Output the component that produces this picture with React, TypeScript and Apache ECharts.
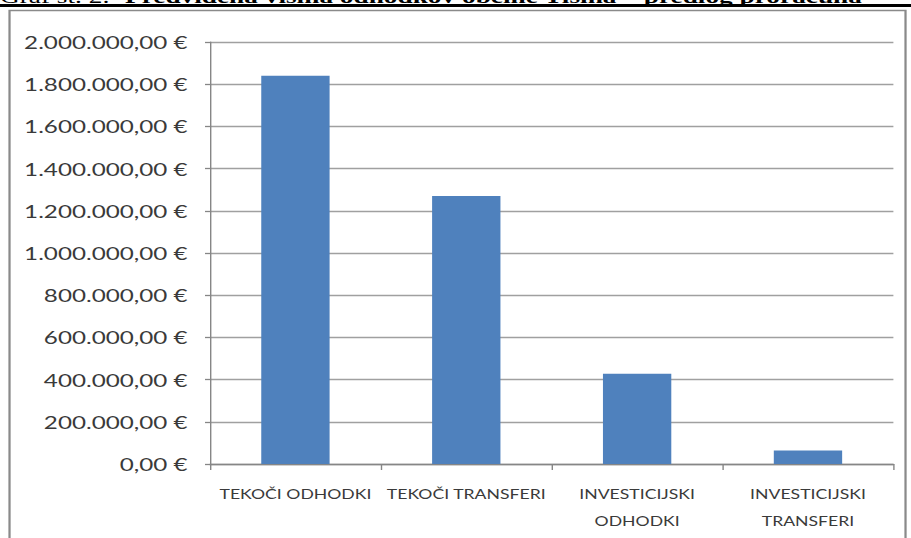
import React, { useEffect, useRef } from "react";
import * as echarts from "echarts";

const categories: string[] = [
  "TEKOČI ODHODKI",
  "TEKOČI TRANSFERI",
  "INVESTICIJSKI\nODHODKI",
  "INVESTICIJSKI\nTRANSFERI",
];
const values: number[] = [1840000, 1270000, 428000, 64000];
const yMin = 0;
const yMax = 2000000;
const yInterval = 200000;
const titlePrefix = "Graf št. 2: ";
const titleMain = "Predvidena višina odhodkov občine Tišina – predlog proračuna";

const S = 1.4; // horizontal stretch of the original picture
const W = 911 / S;
const H = 538;

function formatEuro(v: number): string {
  const s = Math.round(v).toString().replace(/\B(?=(\d{3})+(?!\d))/g, ".");
  return s + ",00 €";
}

export default function App() {
  const ref = useRef<HTMLDivElement>(null);
  useEffect(() => {
    if (!ref.current) return;
    const chart = echarts.init(ref.current, undefined, { renderer: "svg" });
    const font = "Lato";
    chart.setOption({
      animation: false,
      backgroundColor: "#ffffff",
      grid: { left: 210 / S, right: W - 893 / S, top: 42, bottom: 74, containLabel: false },
      xAxis: {
        type: "category",
        data: categories,
        axisLine: { show: true, lineStyle: { color: "#868686", width: 1.3 } },
        axisTick: { show: true, length: 6, alignWithLabel: false, interval: 0, lineStyle: { color: "#868686" } },
        axisLabel: {
          interval: 0,
          margin: 17,
          color: "#3a3a3a",
          fontFamily: font,
          fontSize: 12.6,
          lineHeight: 27,
        },
      },
      yAxis: {
        type: "value",
        min: yMin,
        max: yMax,
        interval: yInterval,
        axisLine: { show: true, lineStyle: { color: "#868686", width: 1 } },
        axisTick: { show: true, length: 5 / S, lineStyle: { color: "#868686", width: 1.3 } },
        axisLabel: {
          margin: 16,
          color: "#3a3a3a",
          fontFamily: font,
          fontSize: 17.3,
          formatter: (v: number) => formatEuro(v),
        },
        splitLine: { show: true, lineStyle: { color: "#a0a0a0", width: 1.4 } },
      },
      series: [
        {
          type: "bar",
          data: values,
          barWidth: "40%",
          itemStyle: { color: "#4f81bd" },
        },
      ],
      graphic: [
        {
          type: "rect",
          shape: { x: 6.8, y: 10.5, width: 640, height: 545 },
          style: { fill: "transparent", stroke: "#8a8a8a", lineWidth: 1.6 },
          z: -1,
        },
        {
          type: "rect",
          shape: { x: 0, y: 4, width: W, height: 3 },
          style: { fill: "#000000" },
        },
        {
          type: "text",
          x: 0,
          y: -3.8,
          style: {
            text: titlePrefix,
            font: '19.5px "Liberation Serif"',
            fill: "#000000",
            verticalAlign: "middle",
          },
        },
        {
          type: "text",
          x: 125 / S,
          y: -3.8,
          style: {
            text: titleMain,
            font: 'bold 19.5px "Liberation Serif"',
            fill: "#000000",
            verticalAlign: "middle",
          },
        },
      ],
    });
    return () => chart.dispose();
  }, []);
  return (
    <div
      style={{
        position: "absolute",
        left: 0,
        top: 0,
        width: 911,
        height: H,
        overflow: "hidden",
        background: "#ffffff",
      }}
    >
      <div
        ref={ref}
        style={{
          width: W,
          height: H,
          transform: `scaleX(${S})`,
          transformOrigin: "0 0",
        }}
      />
    </div>
  );
}
